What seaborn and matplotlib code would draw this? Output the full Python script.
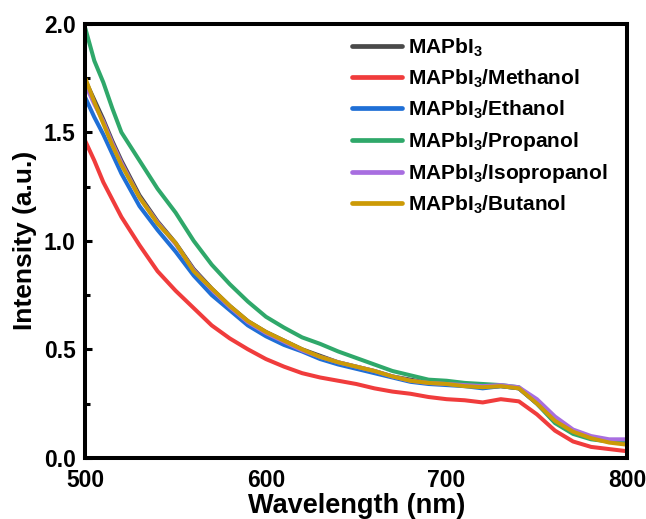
import numpy as np
import pandas as pd
import matplotlib
matplotlib.use("Agg")
import matplotlib.pyplot as plt
from matplotlib.ticker import MultipleLocator, FormatStrFormatter
import seaborn as sns

wavelength = [500, 505, 510, 515, 520, 530, 540, 550, 560, 570, 580, 590, 600, 610, 620,
              630, 640, 650, 660, 670, 680, 690, 700, 710, 720, 730, 740, 750, 760, 770,
              780, 790, 800]

mapbi3 = [1.74, 1.65, 1.56, 1.46, 1.37, 1.21, 1.09, 0.99, 0.87, 0.78, 0.70, 0.63, 0.58, 0.54, 0.50,
          0.47, 0.44, 0.42, 0.40, 0.375, 0.36, 0.345, 0.34, 0.335, 0.325, 0.33, 0.32, 0.25, 0.17, 0.12,
          0.09, 0.075, 0.07]
methanol = [1.46, 1.37, 1.27, 1.19, 1.11, 0.98, 0.86, 0.77, 0.69, 0.61, 0.55, 0.50, 0.455, 0.42, 0.39,
            0.37, 0.355, 0.34, 0.32, 0.305, 0.295, 0.28, 0.27, 0.265, 0.255, 0.27, 0.26, 0.20, 0.125, 0.075,
            0.05, 0.04, 0.03]
ethanol = [1.66, 1.57, 1.49, 1.40, 1.31, 1.16, 1.05, 0.95, 0.84, 0.75, 0.68, 0.61, 0.56, 0.52, 0.49,
           0.455, 0.43, 0.41, 0.39, 0.37, 0.35, 0.34, 0.335, 0.33, 0.32, 0.33, 0.32, 0.25, 0.165, 0.12,
           0.09, 0.075, 0.07]
propanol = [1.98, 1.83, 1.73, 1.61, 1.50, 1.37, 1.24, 1.13, 1.00, 0.89, 0.80, 0.72, 0.65, 0.60, 0.555,
            0.525, 0.49, 0.46, 0.43, 0.40, 0.38, 0.36, 0.355, 0.345, 0.34, 0.335, 0.325, 0.25, 0.16, 0.11,
            0.085, 0.075, 0.07]
isopropanol = [1.72, 1.63, 1.55, 1.45, 1.36, 1.20, 1.085, 0.985, 0.865, 0.775, 0.695, 0.625, 0.575, 0.535, 0.495,
               0.465, 0.44, 0.42, 0.40, 0.375, 0.355, 0.345, 0.34, 0.335, 0.33, 0.335, 0.325, 0.27, 0.19, 0.13,
               0.10, 0.085, 0.085]
butanol = [1.75, 1.64, 1.54, 1.44, 1.35, 1.20, 1.08, 0.99, 0.86, 0.78, 0.70, 0.63, 0.58, 0.54, 0.50,
           0.465, 0.44, 0.42, 0.40, 0.375, 0.355, 0.345, 0.34, 0.33, 0.325, 0.33, 0.32, 0.25, 0.17, 0.12,
           0.09, 0.07, 0.06]

labels = [r"MAPbI$_\mathbf{3}$", r"MAPbI$_\mathbf{3}$/Methanol", r"MAPbI$_\mathbf{3}$/Ethanol",
          r"MAPbI$_\mathbf{3}$/Propanol", r"MAPbI$_\mathbf{3}$/Isopropanol", r"MAPbI$_\mathbf{3}$/Butanol"]
series = [mapbi3, methanol, ethanol, propanol, isopropanol, butanol]
colors = ["#4a4a4a", "#f03c3c", "#1f6fd6", "#2fa86a", "#a86ee0", "#cc9a06"]

frames = []
for lab, vals in zip(labels, series):
    frames.append(pd.DataFrame({"Wavelength": wavelength, "Intensity": vals, "Sample": lab}))
df = pd.concat(frames, ignore_index=True)

sns.set_style("white")
plt.rcParams["font.family"] = ["Liberation Sans", "DejaVu Sans"]
plt.rcParams["font.weight"] = "bold"
plt.rcParams["mathtext.fontset"] = "custom"
plt.rcParams["mathtext.bf"] = "Liberation Sans:bold"
plt.rcParams["mathtext.rm"] = "Liberation Sans:bold"
plt.rcParams["text.color"] = "black"
plt.rcParams["axes.labelcolor"] = "black"
plt.rcParams["xtick.color"] = "black"
plt.rcParams["ytick.color"] = "black"

fig = plt.figure(figsize=(6.46, 5.19), dpi=100)
ax = fig.add_axes([0.132, 0.118, 0.839, 0.836])

sns.lineplot(data=df, x="Wavelength", y="Intensity", hue="Sample", palette=colors,
             hue_order=labels, linewidth=2.9, ax=ax, sort=False)

ax.set_xlim(500, 800)
ax.set_ylim(0, 2.0)
ax.xaxis.set_major_locator(MultipleLocator(100))
ax.yaxis.set_major_locator(MultipleLocator(0.5))
ax.yaxis.set_minor_locator(MultipleLocator(0.25))
ax.tick_params(axis="y", which="major", direction="in", length=5, width=2.2,
               labelsize=16.5, pad=7, left=True, right=False, colors="black")
ax.tick_params(axis="y", which="minor", direction="in", length=3.5, width=2.2, left=True, right=False)
ax.tick_params(axis="x", which="major", direction="in", length=0, width=2.2,
               labelsize=16.5, pad=8, bottom=True, top=False, colors="black")
for lbl in ax.get_xticklabels() + ax.get_yticklabels():
    lbl.set_fontweight("bold")
ax.yaxis.set_major_formatter(FormatStrFormatter("%.1f"))

for sp in ax.spines.values():
    sp.set_linewidth(2.9)
    sp.set_color("black")

ax.set_xlabel("Wavelength (nm)", fontsize=19.5, fontweight="bold", labelpad=1, color="black")
ax.set_ylabel("Intensity (a.u.)", fontsize=19, fontweight="bold", labelpad=5, color="black")

leg = ax.legend(loc="upper left", bbox_to_anchor=(0.493, 0.972), frameon=False,
                fontsize=15, handlelength=2.4, handletextpad=0.25, labelspacing=0.42,
                borderpad=0, borderaxespad=0)
for t in leg.get_texts():
    t.set_fontweight("bold")
    t.set_color("black")
for h in leg.get_lines():
    h.set_linewidth(3.4)

fig.savefig("out.png", dpi=100)
